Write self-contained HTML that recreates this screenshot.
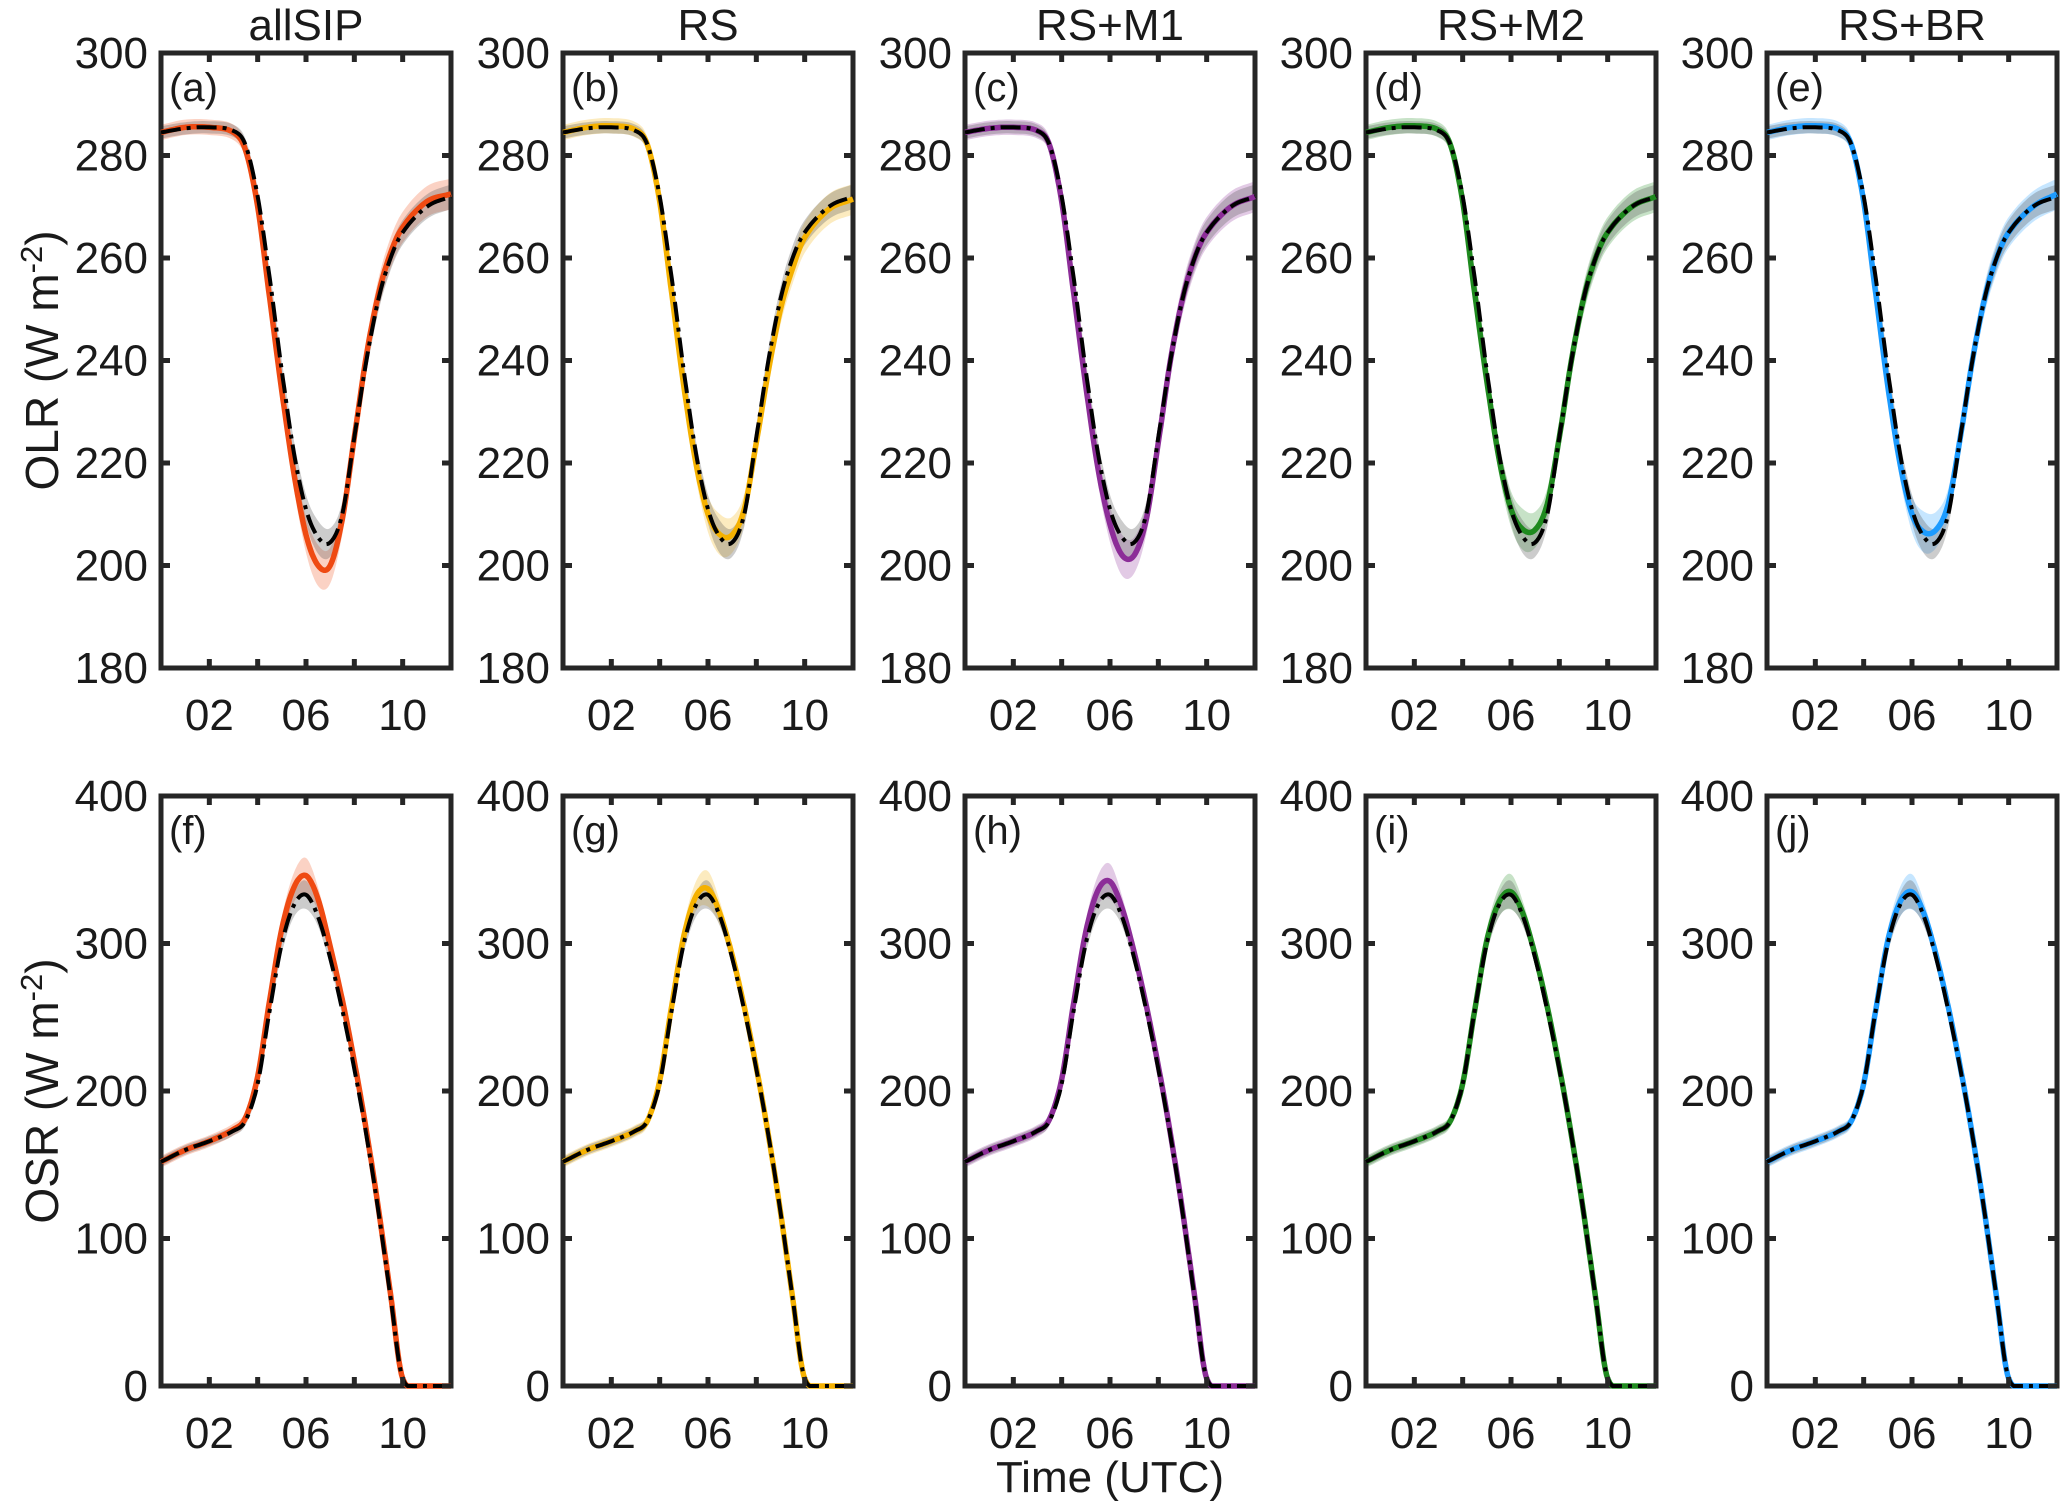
<!DOCTYPE html>
<html><head><meta charset="utf-8"><style>
html,body{margin:0;padding:0;background:#fff;}
svg text{font-family:"Liberation Sans",Arial,sans-serif;fill:#1a1a1a;}
</style></head><body>
<svg id="fig" width="2067" height="1506" viewBox="0 0 2067 1506" xmlns="http://www.w3.org/2000/svg"></svg>
<script>
const hours = [0,1,2,3,3.5,4,4.5,5,5.5,6,6.5,7,7.5,8,8.5,9,9.5,10,11,12];
const panelTitles = ["allSIP","RS","RS+M1","RS+M2","RS+BR"];
const panelColors = ["#ef4a12","#f5b100","#8c2d98","#1f8a1f","#1c9bff"];
const obsOLR = [284.5,285.3,285.5,284.8,282,272,256,238,222,211,205.5,204.5,210,225,240,252,260,265,270,272];
const olrAllSIP = [284.5,285.5,285.5,284.5,281,270,252,234,218,206,200,200,209,225,241,253,261,266,271,272.5];
const olrRS = [284.5,285.5,285.8,285,282,271,253,235,220,210,206,206,211,224,238,250,258,264,269.5,271.5];
const olrM1 = [284.5,285.3,285.5,284.8,282,271,253,235,219,208,202,202,209,224,240,252,260,265,270,272];
const olrM2 = [284.5,285.5,285.8,285,282,271,253,236,221,211,207,207,212,225,240,252,260,265,270,272];
const olrBR = [284.5,285.5,285.8,285,282,271,253,235,220,210,206.5,207,212,225,240,252,260,265,270,272.5];
const olrSpread = [1.5,1.5,1.5,1.5,1.5,2,2,2.5,3,3.5,4,3.5,3,3,3,3,3,3,3,3];
const obsOSR = [152,160,166,173,180,205,255,300,326,333,318,290,255,215,170,118,60,5,0,0];
const osrAllSIP = [152,160,166,174,182,210,262,310,338,346,330,298,262,220,173,120,62,5,0,0];
const osrRS = [152,160,166,173,180,207,258,305,332,337,320,292,257,216,170,118,60,5,0,0];
const osrM1 = [152,160,166,173,181,208,260,308,336,342,324,294,258,217,171,119,61,5,0,0];
const osrM2 = [152,160,166,173,180,205,255,302,328,335,320,292,257,216,170,118,60,5,0,0];
const osrBR = [152,160,166,173,180,205,255,302,328,335,320,292,257,216,170,118,60,5,0,0];
const osrSpread = [4,4,4,4,4,5,6,8,10,12,8,6,5,4,3,3,2,1,0,0];
const olrTicks = [180,200,220,240,260,280,300];
const osrTicks = [0,100,200,300,400];
const xTickVals = [2,4,6,8,10];
const xLabelMap = {2:"02",6:"06",10:"10"};
const panelLetters = ["(a)","(b)","(c)","(d)","(e)","(f)","(g)","(h)","(i)","(j)"];

const olrModels = [olrAllSIP,olrRS,olrM1,olrM2,olrBR];
const osrModels = [osrAllSIP,osrRS,osrM1,osrM2,osrBR];

const NS="http://www.w3.org/2000/svg";
const svg=document.getElementById('fig');
function mk(tag,attrs,parent){const e=document.createElementNS(NS,tag);for(const k in attrs)e.setAttribute(k,attrs[k]);(parent||svg).appendChild(e);return e;}

const lefts=[161,563,965,1366,1767];
const W=290;
const FS=44;
const rows=[{top:53,bot:668,min:180,max:300,ticks:olrTicks,obs:obsOLR,models:olrModels,spread:olrSpread,label:"OLR"},
            {top:796,bot:1386,min:0,max:400,ticks:osrTicks,obs:obsOSR,models:osrModels,spread:osrSpread,label:"OSR"}];

function dense(xs,ys,floor){
  const out=[];
  for(let i=0;i<xs.length-1;i++){
    const x0=xs[Math.max(i-1,0)],x1=xs[i],x2=xs[i+1],x3=xs[Math.min(i+2,xs.length-1)];
    const y0=ys[Math.max(i-1,0)],y1=ys[i],y2=ys[i+1],y3=ys[Math.min(i+2,ys.length-1)];
    const m1=(y2-y0)/((x2-x0)||1)*(x2-x1), m2=(y3-y1)/((x3-x1)||1)*(x2-x1);
    for(let s=0;s<10;s++){const t=s/10,t2=t*t,t3=t2*t;
      let y=(2*t3-3*t2+1)*y1+(t3-2*t2+t)*m1+(-2*t3+3*t2)*y2+(t3-t2)*m2;
      if(floor!==undefined&&y<floor)y=floor;
      out.push([x1+(x2-x1)*t,y]);}
  }
  out.push([xs[xs.length-1],ys[ys.length-1]]);
  return out;
}

rows.forEach((r,ri)=>{
  for(let p=0;p<5;p++){
    const L=lefts[p],R=L+W,T=r.top,B=r.bot;
    const sx=h=>L+h/12*W;
    const sy=v=>B-(v-r.min)/(r.max-r.min)*(B-T);
    const g=mk('g',{});
    
    
    const clipId='c'+ri+p;
    const cp=mk('clipPath',{id:clipId},g);mk('rect',{x:L,y:T,width:W,height:B-T},cp);
    const plot=mk('g',{'clip-path':'url(#'+clipId+')'},g);
    const model=r.models[p], col=panelColors[p];
    const band=(ys,spread,fill,op,name)=>{
      const up=dense(hours,ys.map((v,i)=>v+spread[i]),r.min), lo=dense(hours,ys.map((v,i)=>v-spread[i]),r.min);
      let d='M'+up.map(q=>sx(q[0]).toFixed(1)+','+sy(q[1]).toFixed(1)).join('L');
      d+='L'+lo.reverse().map(q=>sx(q[0]).toFixed(1)+','+sy(q[1]).toFixed(1)).join('L')+'Z';
      const e=mk('path',{d:d,fill:fill,'fill-opacity':op},plot);
      
      
    };
    band(model,r.spread,col,0.25,'model-spread-band');
    band(r.obs,r.spread.map(s=>s*0.8),'#555',0.3,'reference-spread-band');
    const box=mk('rect',{x:L,y:T,width:W,height:B-T,fill:'none',stroke:'#262626','stroke-width':5},g);
    
    
    const line=(ys,attrs,name)=>{
      const pts=dense(hours,ys,r.min);
      const e=mk('path',Object.assign({d:'M'+pts.map(q=>sx(q[0]).toFixed(1)+','+sy(q[1]).toFixed(1)).join('L'),fill:'none','stroke-linejoin':'round'},attrs),g);
      
      
    };
    line(model,{stroke:col,'stroke-width':5.5},'model-line');
    line(r.obs,{stroke:'#000','stroke-width':4,'stroke-dasharray':'20 6 4 6'},'reference-line');
    r.ticks.forEach(v=>{
      const y=sy(v);
      mk('line',{x1:L,x2:L+9,y1:y,y2:y,stroke:'#262626','stroke-width':5},g);
      mk('line',{x1:R-9,x2:R,y1:y,y2:y,stroke:'#262626','stroke-width':5},g);
      const t=mk('text',{x:L-13,y:y+15,'text-anchor':'end','font-size':FS},g);t.textContent=v;
      
      
    });
    xTickVals.forEach(h=>{
      const x=sx(h);
      mk('line',{x1:x,x2:x,y1:B,y2:B-9,stroke:'#262626','stroke-width':5},g);
      mk('line',{x1:x,x2:x,y1:T,y2:T+9,stroke:'#262626','stroke-width':5},g);
      if(xLabelMap[h]){const t=mk('text',{x:x,y:B+62,'text-anchor':'middle','font-size':FS},g);t.textContent=xLabelMap[h];
        
        }
    });
    const lt=mk('text',{x:L+8,y:T+48,'font-size':40},g);lt.textContent=panelLetters[ri*5+p];
    
    
    if(ri===0){const tt=mk('text',{x:L+W/2,y:40,'text-anchor':'middle','font-size':FS},g);tt.textContent=panelTitles[p];
      
      }
  }
  const cy=(r.top+r.bot)/2;
  const yl=mk('text',{x:0,y:0,'text-anchor':'middle','font-size':46,transform:'translate(58,'+cy+') rotate(-90)'});
  
  
  yl.innerHTML=r.label+' (W m<tspan dy="-16" font-size="31">-2</tspan><tspan dy="16">)</tspan>';
});
const xt=mk('text',{x:1110,y:1492,'text-anchor':'middle','font-size':FS});


xt.textContent='Time (UTC)';
</script>
</body></html>
